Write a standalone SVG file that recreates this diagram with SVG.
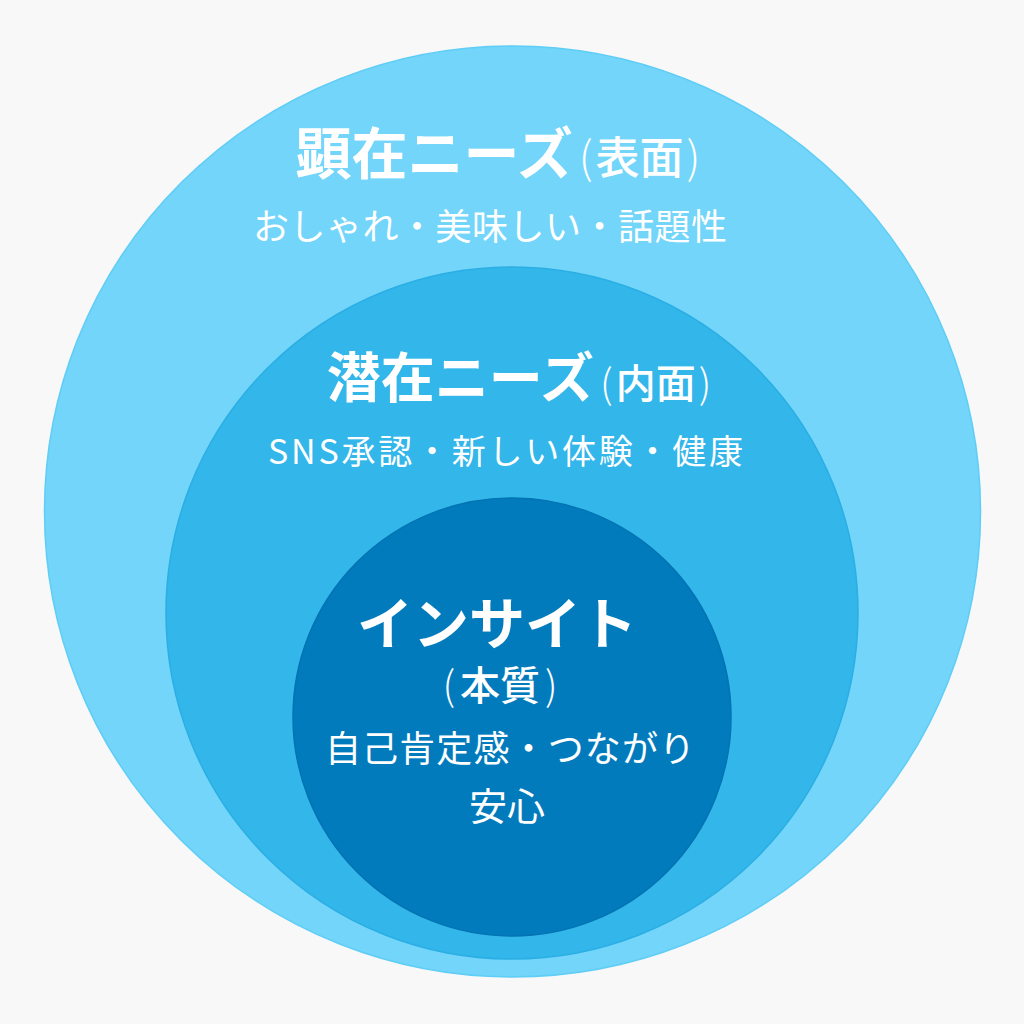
<svg xmlns="http://www.w3.org/2000/svg" width="1024" height="1024" viewBox="0 0 1024 1024">
  <style>
    text { font-family: "Noto Sans CJK JP", "Noto Sans", sans-serif; fill: #ffffff; text-anchor: middle; }
    .title { font-weight: 700; }
    .paren { font-weight: 500; }
    .pl { font-weight: 300; }
    .sub { font-weight: 400; }
    .outer { fill: #72d5f9; stroke: #5fcdf6; stroke-width: 1.5; }
    .middle { fill: #33b6ea; stroke: #2aaee4; stroke-width: 1.5; }
    .inner { fill: #027bbd; stroke: #0273b3; stroke-width: 1.5; }
  </style>
  <rect x="0" y="0" width="1024" height="1024" fill="#f8f8f8"/>
  <g id="overt-needs">
    <ellipse class="outer" cx="512.5" cy="511.5" rx="468" ry="465.5"/>
    <text class="title" x="498" y="174" font-size="56">顕在ニーズ<tspan class="pl" font-size="44" dx="6">(</tspan><tspan class="paren" font-size="44" dx="3">表面</tspan><tspan class="pl" font-size="44" dx="3">)</tspan></text>
    <text class="sub" x="490" y="240" font-size="36" textLength="474" lengthAdjust="spacing">おしゃれ・美味しい・話題性</text>
  </g>
  <g id="latent-needs">
    <circle class="middle" cx="512" cy="613" r="346"/>
    <text class="title" x="519" y="398" font-size="54">潜在ニーズ<tspan class="pl" font-size="40" dx="6">(</tspan><tspan class="paren" font-size="40" dx="3">内面</tspan><tspan class="pl" font-size="40" dx="3">)</tspan></text>
    <text class="sub" x="505.5" y="464" font-size="34" textLength="475" lengthAdjust="spacing">SNS承認・新しい体験・健康</text>
  </g>
  <g id="insight">
    <circle class="inner" cx="512" cy="717" r="219"/>
    <text class="title" x="497" y="644" font-size="56">インサイト</text>
    <text x="500" y="700" font-size="40"><tspan class="pl">(</tspan><tspan class="paren" dx="5">本質</tspan><tspan class="pl" dx="5">)</tspan></text>
    <text class="sub" x="510" y="762" font-size="36" textLength="370" lengthAdjust="spacing">自己肯定感・つながり</text>
    <text class="sub" x="507" y="820" font-size="38">安心</text>
  </g>
  <g id="connectors"></g>
</svg>
